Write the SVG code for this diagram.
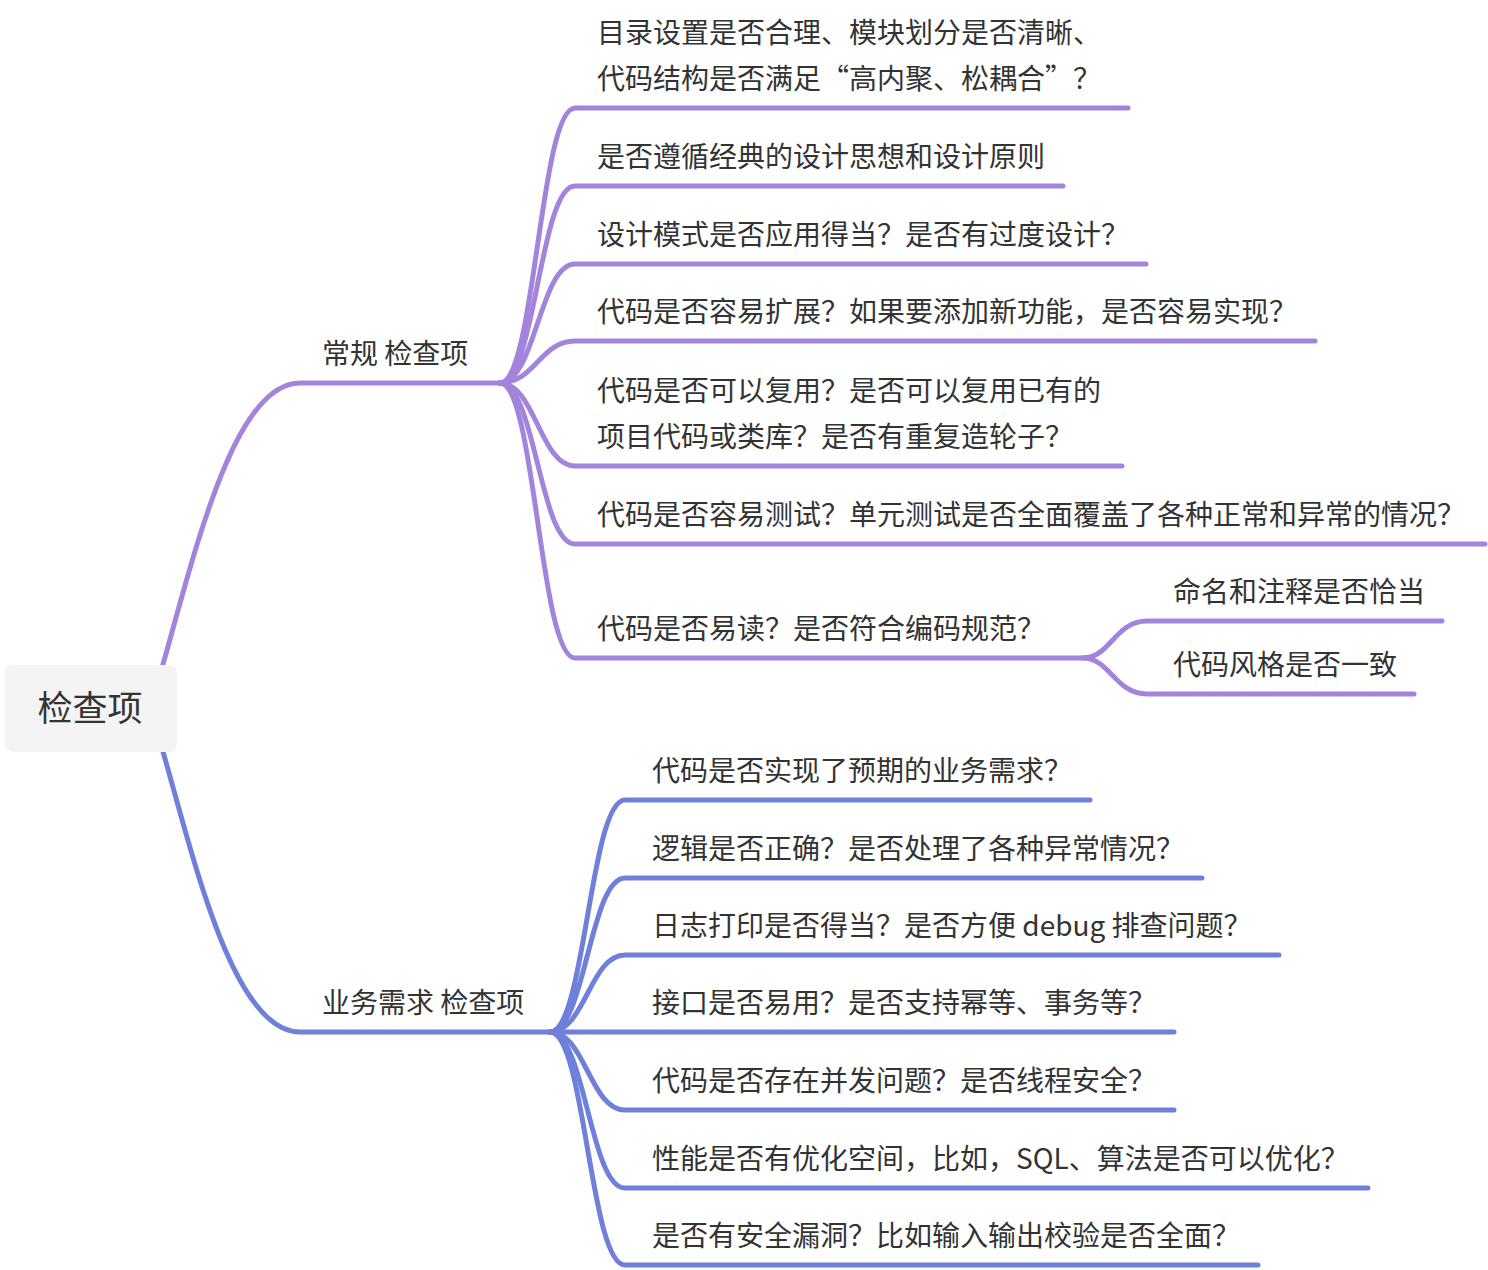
<svg xmlns="http://www.w3.org/2000/svg" width="1488" height="1270" viewBox="0 0 1488 1270">
<style>
.t{font-family:"Noto Sans CJK SC","Microsoft YaHei",sans-serif;font-size:28px;fill:#333}
.root{font-family:"Noto Sans CJK SC",sans-serif;font-size:35px;fill:#333}
.p{fill:none;stroke:#a384dc;stroke-width:5;stroke-linecap:round}
.b{fill:none;stroke:#6f80da;stroke-width:5;stroke-linecap:round}
</style>
<rect width="1488" height="1270" fill="#fff"/>
<g id="connectors">
<path class="p" d="M150 708 C185 600 225 383 300 383 L500 383"/>
<path class="b" d="M150 708 C185 816 225 1032 300 1032 L550 1032"/>
<path class="p" d="M500 383 C535 383 540 108 575 108 L1128 108"/>
<path class="p" d="M500 383 C535 383 540 186 575 186 L1063 186"/>
<path class="p" d="M500 383 C535 383 540 264 575 264 L1146 264"/>
<path class="p" d="M500 383 C535 383 540 341 575 341 L1315 341"/>
<path class="p" d="M500 383 C535 383 540 466 575 466 L1122 466"/>
<path class="p" d="M500 383 C535 383 540 544 575 544 L1485 544"/>
<path class="p" d="M500 383 C535 383 540 658 575 658 L1083 658"/>
<path class="p" d="M1083 658 C1110 658 1115 621 1147 621 L1442 621"/>
<path class="p" d="M1083 658 C1110 658 1115 694 1147 694 L1414 694"/>
<path class="b" d="M550 1032 C585 1032 590 800 625 800 L1090 800"/>
<path class="b" d="M550 1032 C585 1032 590 878 625 878 L1202 878"/>
<path class="b" d="M550 1032 C585 1032 590 955 625 955 L1279 955"/>
<path class="b" d="M550 1032 L1174 1032"/>
<path class="b" d="M550 1032 C585 1032 590 1110 625 1110 L1174 1110"/>
<path class="b" d="M550 1032 C585 1032 590 1188 625 1188 L1368 1188"/>
<path class="b" d="M550 1032 C585 1032 590 1265 625 1265 L1258 1265"/>
</g>
<g id="root"><rect x="5" y="665" width="172" height="87" rx="8" fill="#f4f4f4"/><text class="root" x="90" y="721" text-anchor="middle">检查项</text></g>
<g id="b1"><text class="t" x="322" y="364">常规 检查项</text></g>
<g id="b2"><text class="t" x="322" y="1013">业务需求 检查项</text></g>
<g id="p1"><text class="t" x="597" y="43">目录设置是否合理、模块划分是否清晰、</text><text class="t" x="597" y="89">代码结构是否满足“高内聚、松耦合”？</text></g>
<g id="p2"><text class="t" x="597" y="167">是否遵循经典的设计思想和设计原则</text></g>
<g id="p3"><text class="t" x="597" y="245">设计模式是否应用得当？是否有过度设计？</text></g>
<g id="p4"><text class="t" x="597" y="322">代码是否容易扩展？如果要添加新功能，是否容易实现？</text></g>
<g id="p5"><text class="t" x="597" y="401">代码是否可以复用？是否可以复用已有的</text><text class="t" x="597" y="447">项目代码或类库？是否有重复造轮子？</text></g>
<g id="p6"><text class="t" x="597" y="525">代码是否容易测试？单元测试是否全面覆盖了各种正常和异常的情况？</text></g>
<g id="p7"><text class="t" x="597" y="639">代码是否易读？是否符合编码规范？</text></g>
<g id="p7a"><text class="t" x="1173" y="602">命名和注释是否恰当</text></g>
<g id="p7b"><text class="t" x="1173" y="675">代码风格是否一致</text></g>
<g id="q1"><text class="t" x="652" y="781">代码是否实现了预期的业务需求？</text></g>
<g id="q2"><text class="t" x="652" y="859">逻辑是否正确？是否处理了各种异常情况？</text></g>
<g id="q3"><text class="t" x="652" y="936">日志打印是否得当？是否方便 debug 排查问题？</text></g>
<g id="q4"><text class="t" x="652" y="1013">接口是否易用？是否支持幂等、事务等？</text></g>
<g id="q5"><text class="t" x="652" y="1091">代码是否存在并发问题？是否线程安全？</text></g>
<g id="q6"><text class="t" x="652" y="1169">性能是否有优化空间，比如，SQL、算法是否可以优化？</text></g>
<g id="q7"><text class="t" x="652" y="1246">是否有安全漏洞？比如输入输出校验是否全面？</text></g>
</svg>
